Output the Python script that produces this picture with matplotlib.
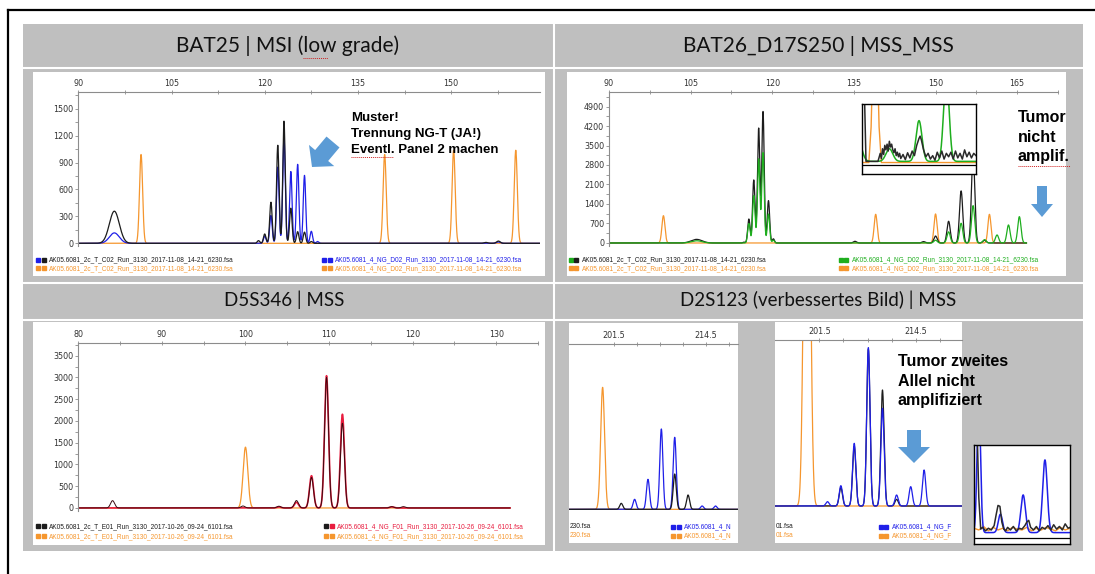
import numpy as np
import matplotlib.pyplot as plt
from matplotlib.patches import Rectangle, FancyArrow

W, H = 1095, 574

BLACK = '#1c1c1c'
BLUE = '#1f1fe8'
ORANGE = '#f5962e'
GREEN = '#1eae1e'
RED = '#e81c3e'
GRAY = '#bfbfbf'
ARROW = '#5b9bd5'

# ---------------- data ----------------
# BAT25 (top left): peak positions (bp), heights (RFU), widths (bp)
bat25_xticks = [90, 105, 120, 135, 150]
bat25_yticks = [0, 300, 600, 900, 1200, 1500]
bat25_tumor_pos = [95.8, 119.0, 120.0, 121.0, 122.1, 123.1, 124.2, 125.3, 126.4, 127.5, 155.6, 157.6]
bat25_tumor_hgt = [358, 30, 104, 459, 1093, 1362, 392, 130, 125, 20, 10, 25]
bat25_tumor_wid = [0.8, 0.2, 0.2, 0.2, 0.2, 0.2, 0.2, 0.2, 0.2, 0.2, 0.3, 0.3]
bat25_normal_pos = [95.8, 120.0, 121.0, 122.1, 123.1, 124.2, 125.3, 126.4, 127.5, 128.5, 157.6]
bat25_normal_hgt = [116, 80, 310, 850, 1180, 800, 880, 757, 134, 20, 15]
bat25_normal_wid = [0.8, 0.2, 0.2, 0.2, 0.2, 0.2, 0.2, 0.2, 0.2, 0.2, 0.3]
bat25_std_pos = [100.1, 139.3, 150.4, 160.4]
bat25_std_hgt = [990, 990, 1037, 1037]

# BAT26_D17S250 (top right)
bat26_xticks = [90, 105, 120, 135, 150, 165]
bat26_yticks = [0, 700, 1400, 2100, 2800, 3500, 4200, 4900]
bat26_tumor_pos = [106.1, 114.8, 115.7, 116.6, 117.5, 118.3, 119.3, 120.2, 135.2, 147.8, 150.0,
                   152.4, 154.7, 156.9, 159.0]
bat26_tumor_hgt = [130, 30, 860, 2264, 4121, 4720, 1521, 150, 60, 50, 250, 780, 1870, 3222, 100]
bat26_tumor_wid = [1.0, 0.2, 0.22, 0.22, 0.22, 0.22, 0.22, 0.2, 0.3, 0.3, 0.3, 0.3, 0.3, 0.3, 0.3]
bat26_normal_pos = [106.1, 115.7, 116.6, 117.5, 118.3, 119.3, 120.2, 150.0, 152.4, 154.7, 156.9,
                    159.0, 161.3, 163.4, 165.4]
bat26_normal_hgt = [80, 700, 1700, 3019, 3246, 1042, 100, 100, 400, 707, 1342, 120, 288, 647, 946]
bat26_normal_wid = [1.0, 0.22, 0.22, 0.22, 0.22, 0.22, 0.2, 0.3, 0.3, 0.3, 0.3, 0.3, 0.3, 0.3, 0.3]
bat26_std_pos = [100.0, 139.0, 150.0, 159.9]
bat26_std_hgt = [980, 1030, 1042, 1030]

# BAT26 magnified inset (relative units)
bat26_zoom_green_pos = [-3, 24, 50, 74]
bat26_zoom_green_hgt = [35, 22, 71, 150]
bat26_zoom_green_wid = [3, 3, 2.6, 2.4]
bat26_zoom_tumor_x = [0, 2, 3.5, 5, 10, 14, 16, 17, 18, 19, 20, 21, 22, 23, 24, 25, 26, 27, 28, 29, 30,
                      31, 32, 33, 34, 36, 38, 40, 42, 44, 46, 48, 50, 51, 52, 54, 56, 58, 60, 62, 64,
                      66, 68, 70, 72, 74, 76, 78, 80, 82, 84, 86, 88, 90, 92, 94, 96, 98, 100]
bat26_zoom_tumor_y = [130, 130, 0, 0, 0, 0, 14, 5, 22, 12, 28, 20, 30, 18, 35, 25, 30, 20, 15, 22, 10,
                      16, 8, 14, 5, 12, 3, 15, 6, 18, 10, 28, 40, 44, 38, 20, 8, 14, 4, 10, 2,
                      16, 6, 18, 4, 14, 8, 16, 4, 18, 6, 14, 4, 20, 8, 16, 6, 14, 10]
bat26_zoom_std_x = [0, 6, 8, 9, 14, 15, 17, 100]
bat26_zoom_std_y = [-2, -2, 60, 140, 140, 60, -2, -2]

# D5S346 (bottom left)
d5_xticks = [80, 90, 100, 110, 120, 130]
d5_yticks = [0, 500, 1000, 1500, 2000, 2500, 3000, 3500]
d5_tumor_pos = [84.1, 99.7, 104.0, 106.1, 107.9, 109.7, 111.6, 117.5, 118.9]
d5_tumor_hgt = [168, 45, 40, 170, 700, 3000, 1948, 30, 30]
d5_normal_pos = [104.0, 106.1, 107.9, 109.7, 111.6, 117.5]
d5_normal_hgt = [25, 130, 741, 3040, 2154, 25]
d5_std_pos = [100.0]
d5_std_hgt = [1398]

# D2S123 (bottom right), two cropped views plus a magnified inset
d2_xticks = [201.5, 208.0, 214.5]
d2_xlabels = ['201.5', '', '214.5']
d2a_tumor_pos = [202.5, 210.1, 212.0]
d2a_tumor_hgt = [18, 106, 43]
d2a_normal_pos = [204.4, 206.3, 208.2, 210.1, 214.0, 215.9]
d2a_normal_hgt = [30, 90, 241, 216, 10, 10]
d2a_std_pos = [199.85]
d2a_std_hgt = [366]
d2b_tumor_pos = [204.4, 206.2, 208.1, 210.0, 211.9]
d2b_tumor_hgt = [55, 180, 470, 348, 20]
d2b_normal_pos = [202.6, 204.4, 206.2, 208.1, 210.0, 211.9, 213.8, 215.6]
d2b_normal_hgt = [13, 61, 188, 475, 293, 33, 58, 108]
d2b_std_pos = [199.6, 200.1]
d2b_std_hgt = [900, 900]

d2_zoom_normal_pos = [5, 27.5, 51.2, 73.9]
d2_zoom_normal_hgt = [150, 21, 43, 83]
d2_zoom_normal_wid = [1.8, 2.2, 2.4, 2.4]
d2_zoom_tumor_x = [0, 3, 5, 7, 9, 12, 15, 18, 21, 23, 25, 27, 29, 31, 33, 35, 38, 41, 44, 47, 50, 53,
                   55, 57, 59, 62, 65, 68, 71, 74, 77, 80, 83, 86, 89, 92, 95, 98, 100]
d2_zoom_tumor_y = [130, 130, 40, 4, 6, 2, 5, 3, 8, 20, 31, 30, 12, 4, 2, 6, 3, 7, 2, 5, 4, 8,
                   12, 14, 6, 3, 7, 2, 6, 4, 8, 3, 9, 4, 7, 3, 10, 5, 6]
d2_zoom_std_x = [0, 5, 10, 15, 20, 25, 30, 35, 40, 45, 50, 55, 60, 65, 70, 75, 80, 85, 90, 95, 100]
d2_zoom_std_y = [5, 3, 7, 2, 6, 3, 5, 2, 6, 4, 3, 6, 2, 5, 3, 6, 4, 2, 6, 3, 5]

titles = ['BAT25 | MSI (low grade)', 'BAT26_D17S250 | MSS_MSS',
          'D5S346 | MSS', 'D2S123 (verbessertes Bild) | MSS']

fig = plt.figure(figsize=(W / 100, H / 100), dpi=100)


def trace(x, pos, hgt, wid):
    wid = np.broadcast_to(wid, np.shape(pos))
    y = np.zeros_like(x)
    for p, h, w in zip(pos, hgt, wid):
        y += h * np.exp(-0.5 * ((x - p) / w) ** 2)
    return y


def px_axes(x0, y0, x1, y1, z=1):
    return fig.add_axes([x0 / W, 1 - y1 / H, (x1 - x0) / W, (y1 - y0) / H], zorder=z)


def pixel_panel(x0, y0, x1, y1, color='white', z=1):
    ax = px_axes(x0, y0, x1, y1, z)
    ax.set_xlim(x0, x1)
    ax.set_ylim(y1, y0)
    ax.set_xticks([])
    ax.set_yticks([])
    for s in ax.spines.values():
        s.set_visible(False)
    if color is None:
        ax.patch.set_alpha(0)
    else:
        ax.set_facecolor(color)
    return ax


def trace_axes(box, xlim, ylim, xticks, yticks=None, xlabels=None):
    ax = px_axes(*box, z=2)
    ax.patch.set_alpha(0)
    ax.set_xlim(xlim)
    ax.set_ylim(ylim)
    ax.xaxis.tick_top()
    ax.set_xticks(xticks)
    if xlabels is not None:
        ax.set_xticklabels(xlabels)
    step = xticks[1] - xticks[0]
    ax.set_xticks([t + step / 2 for t in xticks], minor=True)
    ax.tick_params(axis='x', which='both', direction='inout', length=3, width=0.6,
                   color='#8c8c8c', labelsize=5.8, labelcolor='#333333', pad=1.5)
    ax.spines['top'].set_color('#8c8c8c')
    ax.spines['top'].set_linewidth(0.8)
    ax.spines['bottom'].set_visible(False)
    ax.spines['right'].set_visible(False)
    if yticks is None:
        ax.spines['left'].set_visible(False)
        ax.set_yticks([])
    else:
        ax.set_yticks(yticks)
        ystep = yticks[1] - yticks[0]
        ax.set_yticks([t + ystep / 2 for t in yticks], minor=True)
        ax.tick_params(axis='y', which='both', direction='out', length=2, width=0.6,
                       color='#8c8c8c', labelsize=5.8, labelcolor='#333333', pad=1.5)
        ax.spines['left'].set_color('#8c8c8c')
        ax.spines['left'].set_linewidth(0.8)
    return ax


def legend_row(ax, x, y, c1, c2, label, tcolor, ha='left'):
    if c1 is not None:
        ax.plot([x], [y], ls='none', marker='s', ms=3.4, color=c1, clip_on=True)
        ax.plot([x + 5.5], [y], ls='none', marker='s', ms=3.4, color=c2, clip_on=True)
        x = x + 11
    ax.text(x, y, label, color=tcolor, fontsize=4.7, va='center', ha=ha,
            family='Liberation Sans', clip_on=True)


# ---------------- slide background ----------------
bg = pixel_panel(0, 0, W, H, color='white', z=0)
bg.plot([8, 8], [10, H], color='black', lw=1.6)
bg.plot([8, W], [10, 10], color='black', lw=1.6)
bg.add_patch(Rectangle((23, 24), 1060, 527, color=GRAY, lw=0))
for yy in [67.5, 282.5, 319.5]:
    bg.plot([23, 1083], [yy, yy], color='white', lw=1.5)
bg.plot([553.5, 553.5], [24, 551], color='white', lw=1.5)
bg.text(288, 46, titles[0], fontsize=15, ha='center', va='center', family='Lato', color='#111111')
bg.text(818, 46, titles[1], fontsize=15, ha='center', va='center', family='Lato', color='#111111')
bg.text(284, 300, titles[2], fontsize=13.5, ha='center', va='center', family='Lato', color='#111111')
bg.text(818, 300, titles[3], fontsize=13.5, ha='center', va='center', family='Lato', color='#111111')
bg.plot([303, 328], [58, 58], color='#d02020', lw=0.7, ls=(0, (1, 1)))

# ---------------- BAT25 ----------------
p = pixel_panel(33, 72, 545, 276)
ax = trace_axes((78.3, 92.3, 540, 246), (90, 164.3), (-30, 1683), bat25_xticks, bat25_yticks)
x = np.linspace(90, 164.3, 4000)
ax.plot(x, trace(x, bat25_std_pos, bat25_std_hgt, 0.25), color=ORANGE, lw=0.9)
ax.plot(x, trace(x, bat25_normal_pos, bat25_normal_hgt, bat25_normal_wid), color=BLUE, lw=0.9)
ax.plot(x, trace(x, bat25_tumor_pos, bat25_tumor_hgt, bat25_tumor_wid), color=BLACK, lw=0.9)
legend_row(p, 38, 260, BLUE, BLACK, 'AK05.6081_2c_T_C02_Run_3130_2017-11-08_14-21_6230.fsa', BLACK)
legend_row(p, 38, 268.5, ORANGE, ORANGE, 'AK05.6081_2c_T_C02_Run_3130_2017-11-08_14-21_6230.fsa', ORANGE)
legend_row(p, 324, 260, BLUE, BLUE, 'AK05.6081_4_NG_D02_Run_3130_2017-11-08_14-21_6230.fsa', BLUE)
legend_row(p, 324, 268.5, ORANGE, ORANGE, 'AK05.6081_4_NG_D02_Run_3130_2017-11-08_14-21_6230.fsa', ORANGE)

# ---------------- BAT26_D17S250 ----------------
p = pixel_panel(567, 72, 1066, 276)
ax = trace_axes((609, 92.3, 1058, 246), (90, 166.7), (-108, 5410), bat26_xticks, bat26_yticks)
x = np.linspace(90, 166.7, 4000)
ax.plot(x, trace(x, bat26_std_pos, bat26_std_hgt, 0.28), color=ORANGE, lw=0.9)
ax.plot(x, trace(x, bat26_tumor_pos, bat26_tumor_hgt, bat26_tumor_wid), color=BLACK, lw=0.9)
ax.plot(x, trace(x, bat26_normal_pos, bat26_normal_hgt, bat26_normal_wid), color=GREEN, lw=0.9)
legend_row(p, 571, 260, GREEN, BLACK, 'AK05.6081_2c_T_C02_Run_3130_2017-11-08_14-21_6230.fsa', BLACK)
legend_row(p, 571, 268.5, ORANGE, ORANGE, 'AK05.6081_2c_T_C02_Run_3130_2017-11-08_14-21_6230.fsa', ORANGE)
legend_row(p, 841, 260, GREEN, GREEN, 'AK05.6081_4_NG_D02_Run_3130_2017-11-08_14-21_6230.fsa', GREEN)
legend_row(p, 841, 268.5, ORANGE, ORANGE, 'AK05.6081_4_NG_D02_Run_3130_2017-11-08_14-21_6230.fsa', ORANGE)

# magnified inset
ins = px_axes(862, 104, 976, 174, z=3)
ins.set_facecolor('white')
ins.set_xlim(0, 100)
ins.set_ylim(-22, 100)
ins.set_xticks([])
ins.set_yticks([])
for s in ins.spines.values():
    s.set_color('black')
    s.set_linewidth(1.0)
xi = np.linspace(0, 100, 800)
ins.plot(bat26_zoom_std_x, bat26_zoom_std_y, color=ORANGE, lw=1.0)
ins.plot(xi, trace(xi, bat26_zoom_green_pos, bat26_zoom_green_hgt, bat26_zoom_green_wid),
         color=GREEN, lw=1.1)
ins.plot(bat26_zoom_tumor_x, bat26_zoom_tumor_y, color='#2a2a2a', lw=1.1)
ins.axhline(-5.8, color='black', lw=0.9)

# ---------------- D5S346 ----------------
p = pixel_panel(33, 322, 545, 545)
ax = trace_axes((78.3, 343.3, 538, 511), (80, 131.65), (-70, 3785), d5_xticks, d5_yticks)
x = np.linspace(80, 131.65, 4000)
ax.plot(x, trace(x, d5_std_pos, d5_std_hgt, 0.28), color=ORANGE, lw=0.9)
ax.plot(x, trace(x, d5_normal_pos, d5_normal_hgt, 0.24), color=RED, lw=1.2)
ax.plot(x, trace(x, d5_tumor_pos, d5_tumor_hgt, 0.24), color='#3a0a10', lw=0.7)
legend_row(p, 38, 526.5, BLACK, BLACK, 'AK05.6081_2c_T_E01_Run_3130_2017-10-26_09-24_6101.fsa', BLACK)
legend_row(p, 38, 536.5, ORANGE, ORANGE, 'AK05.6081_2c_T_E01_Run_3130_2017-10-26_09-24_6101.fsa', ORANGE)
legend_row(p, 326, 526.5, BLACK, RED, 'AK05.6081_4_NG_F01_Run_3130_2017-10-26_09-24_6101.fsa', RED)
legend_row(p, 326, 536.5, ORANGE, ORANGE, 'AK05.6081_4_NG_F01_Run_3130_2017-10-26_09-24_6101.fsa', ORANGE)

# ---------------- D2S123 view A (legend text cut at the crop edge) ----------------
p = pixel_panel(569, 323, 738, 543)
ax = trace_axes((569, 344.3, 738, 514), (195.07, 219.1), (-14, 495), d2_xticks, None, d2_xlabels)
x = np.linspace(195.07, 219.1, 2000)
ax.plot(x, trace(x, d2a_std_pos, d2a_std_hgt, 0.28), color=ORANGE, lw=0.9)
ax.plot(x, trace(x, d2a_normal_pos, d2a_normal_hgt, 0.22), color=BLUE, lw=0.9)
ax.plot(x, trace(x, d2a_tumor_pos, d2a_tumor_hgt, 0.22), color=BLACK, lw=0.9)
legend_row(p, 570, 526.5, None, None, '230.fsa', BLACK)
legend_row(p, 570, 535.5, None, None, '230.fsa', ORANGE)
legend_row(p, 673, 526.5, BLUE, BLUE, 'AK05.6081_4_N', BLUE)
legend_row(p, 673, 535.5, ORANGE, ORANGE, 'AK05.6081_4_N', ORANGE)

# ---------------- D2S123 view B ----------------
p = pixel_panel(775, 322, 962, 543)
ax = trace_axes((775, 340, 962, 510), (195.54, 220.7), (-12, 498), d2_xticks, None, d2_xlabels)
x = np.linspace(195.54, 220.7, 2000)
ax.plot(x, trace(x, d2b_std_pos, d2b_std_hgt, 0.3), color=ORANGE, lw=0.9)
ax.plot(x, trace(x, d2b_tumor_pos, d2b_tumor_hgt, 0.22), color=BLACK, lw=0.9)
ax.plot(x, trace(x, d2b_normal_pos, d2b_normal_hgt, 0.22), color=BLUE, lw=0.9)
legend_row(p, 776, 526.5, None, None, '01.fsa', BLACK)
legend_row(p, 776, 535.5, None, None, '01.fsa', ORANGE)
legend_row(p, 881, 526.5, BLUE, BLUE, 'AK05.6081_4_NG_F', BLUE)
legend_row(p, 881, 535.5, ORANGE, ORANGE, 'AK05.6081_4_NG_F', ORANGE)

# magnified inset
ins = px_axes(974, 445, 1070, 544, z=3)
ins.set_facecolor('white')
ins.set_xlim(0, 100)
ins.set_ylim(-13, 100)
ins.set_xticks([])
ins.set_yticks([])
for s in ins.spines.values():
    s.set_color('black')
    s.set_linewidth(1.0)
xi = np.linspace(0, 100, 800)
ins.plot(d2_zoom_std_x, d2_zoom_std_y, color=ORANGE, lw=1.0)
ins.plot(xi, trace(xi, d2_zoom_normal_pos, d2_zoom_normal_hgt, d2_zoom_normal_wid), color=BLUE, lw=1.1)
ins.plot(d2_zoom_tumor_x, d2_zoom_tumor_y, color='#2a2a2a', lw=1.1)
ins.axhline(-6.5, color='black', lw=0.9)

# ---------------- annotations ----------------
ov = pixel_panel(0, 0, W, H, color=None, z=5)
bold = dict(family='Liberation Sans', fontweight='bold', color='black', va='center', ha='left')
for i, line in enumerate(['Muster!', 'Trennung NG-T (JA!)', 'Eventl. Panel 2 machen']):
    ov.text(351, 118 + 16 * i, line, fontsize=9.5, **bold)
ov.plot([351, 393], [157, 157], color='#d02020', lw=0.7, ls=(0, (1, 1)))
ov.add_patch(FancyArrow(333, 142, -21, 25, width=17, head_width=33, head_length=15,
                        length_includes_head=True, color=ARROW, lw=0))
for i, line in enumerate(['Tumor', 'nicht', 'amplif.']):
    ov.text(1018, 118 + 19.5 * i, line, fontsize=11.5, **bold)
ov.plot([1018, 1070], [166, 166], color='#d02020', lw=0.7, ls=(0, (1, 1)))
ov.add_patch(FancyArrow(1042, 186, 0, 31, width=10, head_width=22, head_length=13,
                        length_includes_head=True, color=ARROW, lw=0))
for i, line in enumerate(['Tumor zweites', 'Allel nicht', 'amplifiziert']):
    ov.text(898, 361 + 20 * i, line, fontsize=11.5, **bold)
ov.add_patch(FancyArrow(914, 430, 0, 33, width=14, head_width=32, head_length=16,
                        length_includes_head=True, color=ARROW, lw=0))

fig.savefig('out.png', dpi=100)
